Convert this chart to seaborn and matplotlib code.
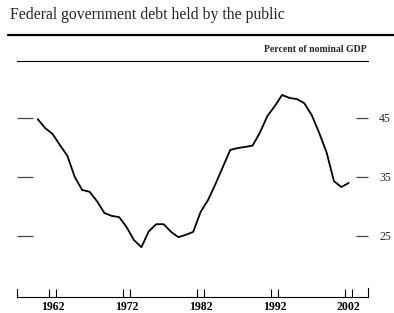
import numpy as np
import pandas as pd
import matplotlib
matplotlib.use("Agg")
import matplotlib.pyplot as plt
import seaborn as sns

years = list(range(1960, 2003))
debt = [44.8, 43.3, 42.3, 40.4, 38.6, 35.0, 32.8, 32.5, 30.9, 28.9,
        28.4, 28.2, 26.5, 24.3, 23.1, 25.8, 27.0, 27.0, 25.7, 24.8,
        25.2, 25.7, 29.1, 31.1, 33.8, 36.7, 39.6, 39.9, 40.1, 40.3,
        42.5, 45.3, 47.0, 48.9, 48.4, 48.2, 47.5, 45.5, 42.5, 39.2,
        34.3, 33.3, 34.0]
year_labels = [1962, 1972, 1982, 1992, 2002]
y_ticks = [25, 35, 45]

df = pd.DataFrame({"year": years, "debt": debt})

sns.set_theme(style="white")
plt.rcParams["font.family"] = ["Liberation Serif", "DejaVu Serif"]

fig = plt.figure(figsize=(3.94, 3.13), dpi=100)
ax = fig.add_axes([17 / 394, 16 / 313, 351 / 394, 236 / 313])

sns.lineplot(data=df, x="year", y="debt", color="black", linewidth=1.3, ax=ax)

xmin, xmax = 1957.2, 2004.6
ymin, ymax = 14.66, 54.66
ax.set_xlim(xmin, xmax)
ax.set_ylim(ymin, ymax)
ax.set_xlabel("")
ax.set_ylabel("")

# x axis: labels at year centres, small ticks at year boundaries
ax.set_xticks(year_labels)
ax.set_xticklabels([str(y) for y in year_labels], fontsize=8.5, fontweight="bold")
ax.set_xticks([y + d for y in year_labels for d in (-0.5, 0.5)], minor=True)
ax.tick_params(axis="x", which="major", length=0, pad=3, colors="black")
ax.tick_params(axis="x", which="minor", direction="in", length=6, width=0.8,
               color="black", bottom=True)

# y axis: ticks inside both sides, labels on the right
ax.set_yticks(y_ticks)
ax.yaxis.set_ticks_position("both")
ax.tick_params(axis="y", which="major", direction="in", left=True, right=True,
               labelleft=False, labelright=True, length=12, width=0.9,
               pad=8, labelsize=8.5, color="#444444")
for t in ax.yaxis.get_major_ticks():
    t.tick1line.set_markersize(11.5)
    t.tick2line.set_markersize(8.6)

ax.spines["top"].set_linewidth(0.8)
ax.spines["bottom"].set_linewidth(0.8)
ax.spines["left"].set_bounds(ymin, ymin + 1.4)
ax.spines["right"].set_bounds(ymin, ymin + 1.6)
ax.spines["left"].set_linewidth(0.8)
ax.spines["right"].set_linewidth(0.8)
for s in ax.spines.values():
    s.set_color("black")

fig.text(10 / 394, 1 - 15 / 313, "Federal government debt held by the public",
         fontsize=11.3, va="center", ha="left")
fig.add_artist(plt.Line2D([8 / 394, 1], [1 - 35 / 313] * 2, color="black",
                          linewidth=1.6, transform=fig.transFigure))
fig.text(367 / 394, 1 - 50 / 313, "Percent of nominal GDP", fontsize=7,
         fontweight="bold", va="center", ha="right")

fig.savefig("out.png", dpi=100)
